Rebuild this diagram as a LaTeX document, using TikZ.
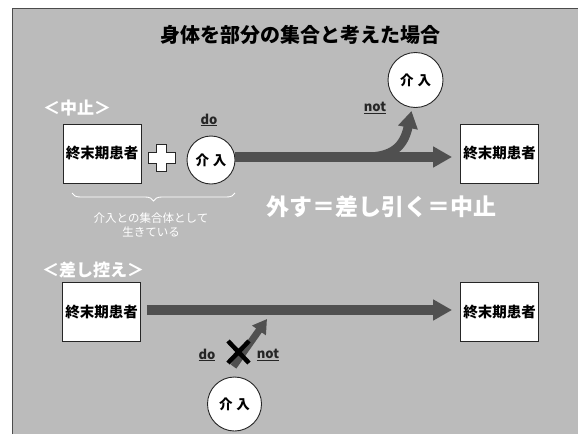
\documentclass[tikz,border=0pt]{standalone}
\usepackage{fontspec}
\setmainfont{Noto Sans CJK JP}[BoldFont={Noto Sans CJK JP Black}]
\usetikzlibrary{arrows.meta,decorations.pathreplacing}
\definecolor{bg}{HTML}{BBBBBB}
\definecolor{arr}{HTML}{505050}
\tikzset{
  patient/.style={draw=black!85,line width=0.9pt,fill=white,minimum width=78pt,minimum height=59pt,inner sep=0pt,font=\fontsize{14.5}{16}\selectfont\bfseries},
  interv/.style={circle,draw=black!85,line width=0.9pt,fill=white,inner sep=0pt,font=\fontsize{13.5}{15}\selectfont\bfseries},
  tag/.style={font=\fontsize{13}{15}\selectfont\bfseries,text=black!85,inner sep=1pt},
  heading/.style={text=white,font=\fontsize{17}{19}\selectfont\bfseries,inner sep=0pt},
  flow/.style={draw=arr,line width=10pt,-{Triangle[length=19pt,width=20pt]}},
}
\begin{document}
\begin{tikzpicture}[x=1pt,y=-1pt]
\useasboundingbox (0,0) rectangle (578,434);
\fill[white] (0,0) rectangle (578,434);
\fill[bg] (12,8) rectangle (578,434);
\draw[black!70,line width=0.6pt] (12,434) -- (12,8) -- (578,8);

% title
\node[font=\fontsize{20}{22}\selectfont\bfseries,inner sep=0pt] (title) at (300,35) {身体を部分の集合と考えた場合};

% ---- upper scene: 中止
\node[heading] (h1) at (77,108) {＜中止＞};
\node[patient] (b1) at (102,153.5) {終末期患者};
\node[patient] (b2) at (499.5,153.5) {終末期患者};
\node[interv,minimum size=48pt] (c1) at (211,160) {介\kern4pt入};
\node[interv,minimum size=55pt] (c2) at (415.5,80) {介\kern4pt入};
\node[tag] (do1) at (209,120) {\underline{do}};
\node[tag] (not1) at (375,108) {\underline{not}};

% plus sign
\draw[fill=white,draw=black!85,line width=0.9pt]
  (156.5,144) -- (166.5,144) -- (166.5,152) -- (175,152) -- (175,163) -- (166.5,163)
  -- (166.5,171) -- (156.5,171) -- (156.5,163) -- (148,163) -- (148,152) -- (156.5,152) -- cycle;

% main arrow and branch
\coordinate (e1) at ([xshift=-8pt,yshift=-3.5pt]b2.west);
\draw[flow] ([yshift=3pt]c1.east) -- (e1);
\coordinate (brs) at (366,157);
\coordinate (brt) at ([xshift=-4pt,yshift=-3pt]c2.south);
\draw[draw=arr,line width=9pt,-{Triangle[length=17pt,width=19pt]}]
  (brs) .. controls (393,157) and (404,146) .. (brt);

% brace and its text
\draw[white,line width=0.9pt,decorate,decoration={brace,amplitude=8pt}] (235,193) -- (72,193);
\node[text=white,font=\fontsize{11.5}{14}\selectfont,align=center,inner sep=0pt] (bt) at (151,225) {介入との集合体として\\生きている};

% equation
\node[text=white,font=\fontsize{23}{25}\selectfont\bfseries,inner sep=0pt] (eq) at (381,207) {外す＝差し引く＝中止};

% ---- lower scene: 差し控え
\node[heading] (h2) at (93,270) {＜差し控え＞};
\node[patient] (b3) at (101.5,312) {終末期患者};
\node[patient] (b4) at (499.5,312) {終末期患者};
\node[interv,minimum size=54pt] (c3) at (234.5,404) {介\kern4pt入};

\coordinate (s3) at ([xshift=6pt,yshift=2pt]b3.east);
\coordinate (e3) at ([xshift=-8pt,yshift=2pt]b4.west);
\draw[flow] (s3) -- (e3);

\coordinate (s4) at ([xshift=-1pt,yshift=10pt]c3.north);
\coordinate (t4) at (267,319);
\draw[draw=arr,line width=7pt,-{Triangle[length=14pt,width=16pt]}] (s4) -- (t4);

% cross
\draw[black,line width=4.5pt] (228,341) -- (249,363) (249,341) -- (228,363);

\node[tag] (do2) at (207,355) {\underline{do}};
\node[tag] (not2) at (268,355) {\underline{not}};
\end{tikzpicture}
\end{document}
